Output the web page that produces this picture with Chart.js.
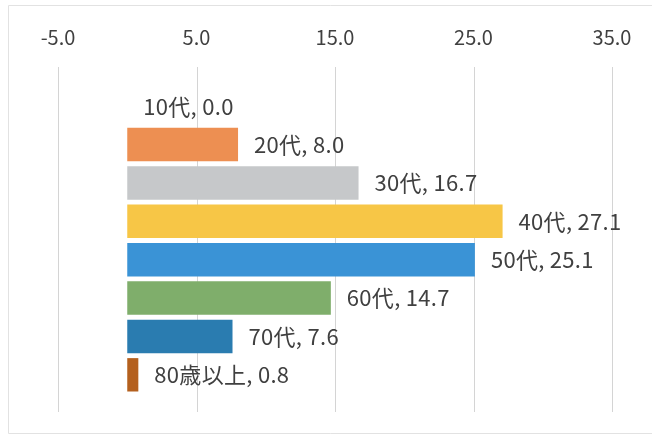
<!DOCTYPE html>
<html>
<head>
<meta charset="utf-8">
<script src="https://cdn.jsdelivr.net/npm/chart.js@4"></script>
<style>
  html, body { margin: 0; padding: 0; background: #fff; }
  #wrap { width: 652px; height: 439px; position: relative; }
</style>
</head>
<body>
<div id="wrap"><canvas id="chart"></canvas></div>
<script>
const categories = ['10代', '20代', '30代', '40代', '50代', '60代', '70代', '80歳以上'];
const values = [0.0, 8.0, 16.7, 27.1, 25.1, 14.7, 7.6, 0.8];
const barColors = ['#ED8F52', '#ED8F52', '#C6C8CA', '#F7C646', '#3A93D6', '#7FAE6B', '#2A7CB0', '#B4601E'];
const tickValues = [-5, 5, 15, 25, 35];

const FONT = "'Noto Sans CJK JP', 'Noto Sans', sans-serif";
const TEXT = '#404040';

// vertical gridlines that run a bit past the plot area, like the original
const gridLines = {
  id: 'gridLines',
  beforeDatasetsDraw(chart) {
    const { ctx, chartArea, scales } = chart;
    ctx.save();
    ctx.strokeStyle = '#D4D4D4';
    ctx.lineWidth = 1;
    tickValues.forEach(v => {
      const x = Math.round(scales.x.getPixelForValue(v)) + 0.5;
      ctx.beginPath();
      ctx.moveTo(x, chartArea.top - 20);
      ctx.lineTo(x, chartArea.bottom + 18);
      ctx.stroke();
    });
    ctx.restore();
  }
};

// "category, value" labels at the end of each bar
const endLabels = {
  id: 'endLabels',
  afterDatasetsDraw(chart) {
    const { ctx } = chart;
    const meta = chart.getDatasetMeta(0);
    ctx.save();
    ctx.font = '22px ' + FONT;
    ctx.letterSpacing = '0.3px';
    ctx.fillStyle = TEXT;
    ctx.textBaseline = 'middle';
    ctx.textAlign = 'left';
    meta.data.forEach((bar, i) => {
      ctx.fillText(categories[i] + ', ' + values[i].toFixed(1), bar.x + 16, bar.y);
    });
    ctx.restore();
  }
};

// light frame around the whole chart
const frame = {
  id: 'frame',
  beforeDraw(chart) {
    const { ctx } = chart;
    ctx.save();
    ctx.strokeStyle = '#E2E2E2';
    ctx.lineWidth = 1;
    ctx.beginPath();
    ctx.moveTo(652, 5.5);
    ctx.lineTo(8.5, 5.5);
    ctx.lineTo(8.5, 433.5);
    ctx.lineTo(652, 433.5);
    ctx.stroke();
    ctx.restore();
  }
};

new Chart(document.getElementById('chart'), {
  type: 'bar',
  data: {
    labels: categories,
    datasets: [{
      data: values,
      backgroundColor: barColors,
      borderWidth: 0,
      categoryPercentage: 1,
      barPercentage: 0.87
    }]
  },
  options: {
    indexAxis: 'y',
    responsive: true,
    maintainAspectRatio: false,
    animation: false,
    layout: { padding: { left: 58, right: 40, top: -13, bottom: 45 } },
    plugins: { legend: { display: false }, tooltip: { enabled: false } },
    scales: {
      x: {
        position: 'top',
        min: -5,
        max: 35,
        afterBuildTicks: axis => { axis.ticks = tickValues.map(v => ({ value: v })); },
        afterFit: axis => { axis.paddingLeft = 0; axis.paddingRight = 0; },
        grid: { display: false, drawTicks: false },
        border: { display: false },
        ticks: {
          font: { family: FONT, size: 20 },
          color: TEXT,
          padding: 38,
          maxRotation: 0,
          callback: v => Number(v).toFixed(1)
        }
      },
      y: {
        display: false
      }
    }
  },
  plugins: [frame, gridLines, endLabels]
});
</script>
</body>
</html>
